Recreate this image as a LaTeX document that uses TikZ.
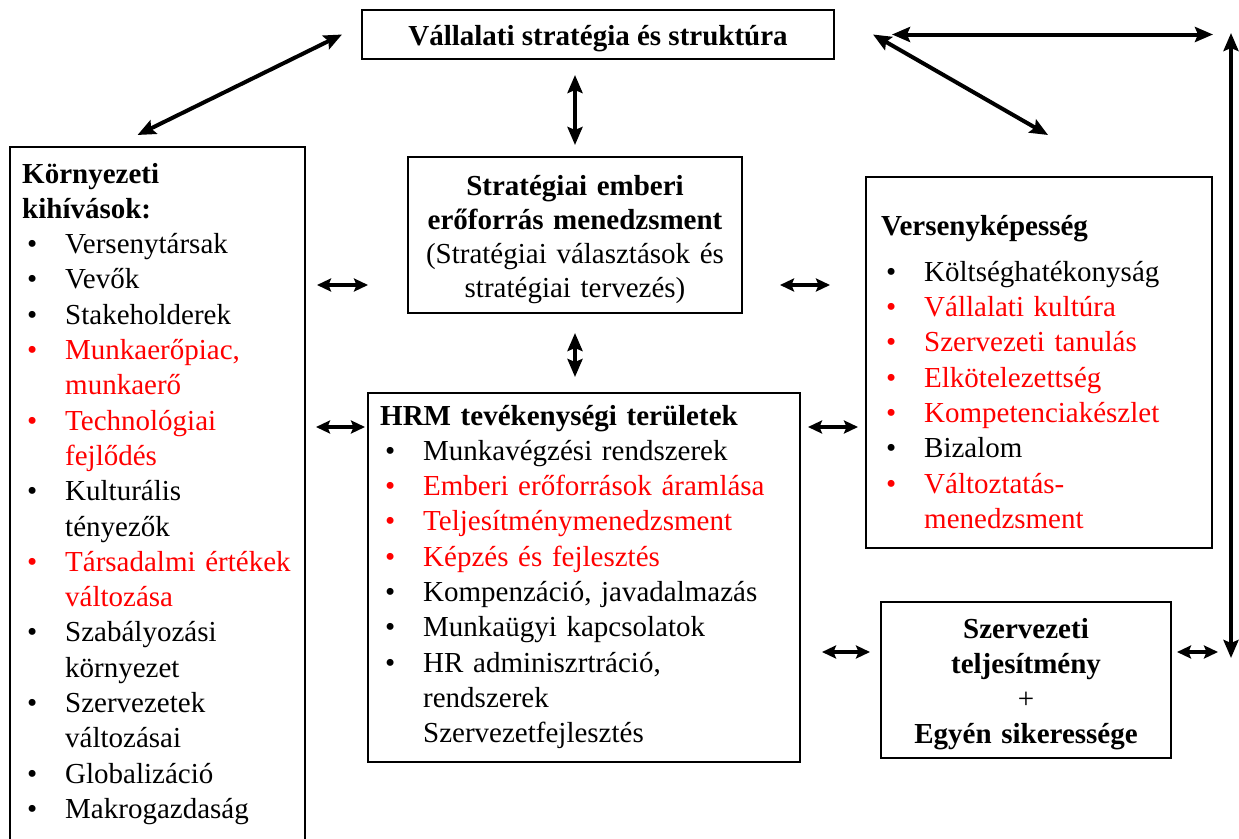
\documentclass[tikz,border=0pt]{standalone}
\usepackage{fontspec}
\setmainfont{Liberation Serif}
\usepackage{tikz}
\usetikzlibrary{arrows.meta}
\definecolor{hotred}{HTML}{FF0000}
\newcommand{\bodyfont}{\fontsize{29pt}{35.3pt}\selectfont}
\newcommand{\itm}[1]{\makebox[43pt][l]{\hspace{5pt}\textbullet}#1}
\newcommand{\ritm}[1]{{\color{hotred}\itm{#1}}}
\newcommand{\cnt}[1]{\hspace*{43pt}#1}
\newcommand{\rcnt}[1]{{\color{hotred}\cnt{#1}}}

\begin{document}
\begin{tikzpicture}[x=1pt, y=-1pt,
      box/.style={draw, line width=1.5pt, inner sep=0pt, outer sep=0pt},
      txt/.style={inner sep=0pt, anchor=base west, text width=440pt,
                  align=left, font=\bodyfont},
      ctxt/.style={inner sep=0pt, anchor=base, align=center},
      longarr/.style={{Stealth[length=18pt,width=15pt,inset=3pt]}-{Stealth[length=18pt,width=15pt,inset=3pt]},
                      line width=4pt},
      shortarr/.style={{Stealth[length=14pt,width=13pt,inset=2.5pt]}-{Stealth[length=14pt,width=13pt,inset=2.5pt]},
                       line width=3.2pt}]

    \useasboundingbox (0,0) rectangle (1239,838);

    % boxes
    \node[box, minimum width=472pt, minimum height=49pt]  (strat) at (598,34.5) {};
    \node[box, minimum width=295pt, minimum height=720pt] (env)   at (157.5,507) {};
    \node[box, minimum width=334pt, minimum height=156pt] (seem)  at (575,235) {};
    \node[box, minimum width=432pt, minimum height=369pt] (hrm)   at (584,577.5) {};
    \node[box, minimum width=346pt, minimum height=371pt] (vers)  at (1039,362.5) {};
    \node[box, minimum width=290pt, minimum height=156pt] (perf)  at (1026,680) {};

    % texts
    \node[ctxt, font=\bodyfont\bfseries] (strattxt) at (598,45)
      {Vállalati stratégia és struktúra};

    \node[txt] (envtxt) at (22,183)
      {\textbf{Környezeti}\\
       \textbf{kihívások:}\\
       \itm{Versenytársak}\\
       \itm{Vevők}\\
       \itm{Stakeholderek}\\
       \ritm{Munkaerőpiac,}\\
       \rcnt{munkaerő}\\
       \ritm{Technológiai}\\
       \rcnt{fejlődés}\\
       \itm{Kulturális}\\
       \cnt{tényezők}\\
       \ritm{Társadalmi értékek}\\
       \rcnt{változása}\\
       \itm{Szabályozási}\\
       \cnt{környezet}\\
       \itm{Szervezetek}\\
       \cnt{változásai}\\
       \itm{Globalizáció}\\
       \itm{Makrogazdaság}};

    \node[ctxt, text width=334pt, font=\fontsize{29pt}{34pt}\selectfont] (seemtxt) at (575,195)
      {\textbf{Stratégiai emberi}\\
       \textbf{erőforrás menedzsment}\\
       (Stratégiai választások és\\
       stratégiai tervezés)};

    \node[txt] (hrmtxt) at (380,425)
      {\textbf{HRM tevékenységi területek}\\
       \itm{Munkavégzési rendszerek}\\
       \ritm{Emberi erőforrások áramlása}\\
       \ritm{Teljesítménymenedzsment}\\
       \ritm{Képzés és fejlesztés}\\
       \itm{Kompenzáció, javadalmazás}\\
       \itm{Munkaügyi kapcsolatok}\\
       \itm{HR adminiszrtráció,}\\
       \cnt{rendszerek}\\
       \cnt{Szervezetfejlesztés}};

    \node[txt] (verstxt) at (881,235)
      {\textbf{Versenyképesség}\\[11pt]
       \itm{Költséghatékonyság}\\
       \ritm{Vállalati kultúra}\\
       \ritm{Szervezeti tanulás}\\
       \ritm{Elkötelezettség}\\
       \ritm{Kompetenciakészlet}\\
       \itm{Bizalom}\\
       \ritm{Változtatás-}\\
       \rcnt{menedzsment}};

    \node[ctxt, text width=290pt, font=\fontsize{29pt}{35pt}\selectfont] (perftxt) at (1026,638)
      {\textbf{Szervezeti}\\
       \textbf{teljesítmény}\\
       +\\
       \textbf{Egyén sikeressége}};

    % arrow rows and the right rail
    \coordinate (rowA) at (0,285);
    \coordinate (rowB) at (0,427);
    \coordinate (rowC) at (0,652);
    \coordinate (railtop) at (1231,33);
    \coordinate (railbot) at (1231,658);

    % long connectors
    \draw[longarr] ([xshift=-20pt]strat.west) -- ([xshift=-20pt,yshift=12pt]env.north);
    \draw[longarr] ([yshift=-16pt]seem.north |- strat.south) -- ([yshift=12pt]seem.north);
    \draw[longarr] ([yshift=-20pt]seem.south) -- ([yshift=16pt]hrm.north -| seem.south);
    \draw[longarr] ([xshift=39pt]strat.east) -- ([xshift=9pt,yshift=42pt]vers.north);
    \draw[longarr] ([xshift=58pt]strat.east) -- ([xshift=-18pt]railtop |- strat.east);
    \draw[longarr] (railtop) -- (railbot);

    % short connectors
    \draw[shortarr] ([xshift=12pt]env.east |- rowA) -- ([xshift=-40pt]seem.west |- rowA);
    \draw[shortarr] ([xshift=11pt]env.east |- rowB) -- ([xshift=-3pt]hrm.west |- rowB);
    \draw[shortarr] ([xshift=38pt]seem.east |- rowA) -- ([xshift=-36pt]vers.west |- rowA);
    \draw[shortarr] ([xshift=8pt]hrm.east |- rowB) -- ([xshift=-8pt]vers.west |- rowB);
    \draw[shortarr] ([xshift=22pt]hrm.east |- rowC) -- ([xshift=-11pt]perf.west |- rowC);
    \draw[shortarr] ([xshift=6pt]perf.east |- rowC) -- ([xshift=-13pt]railtop |- rowC);
  \end{tikzpicture}
\end{document}
